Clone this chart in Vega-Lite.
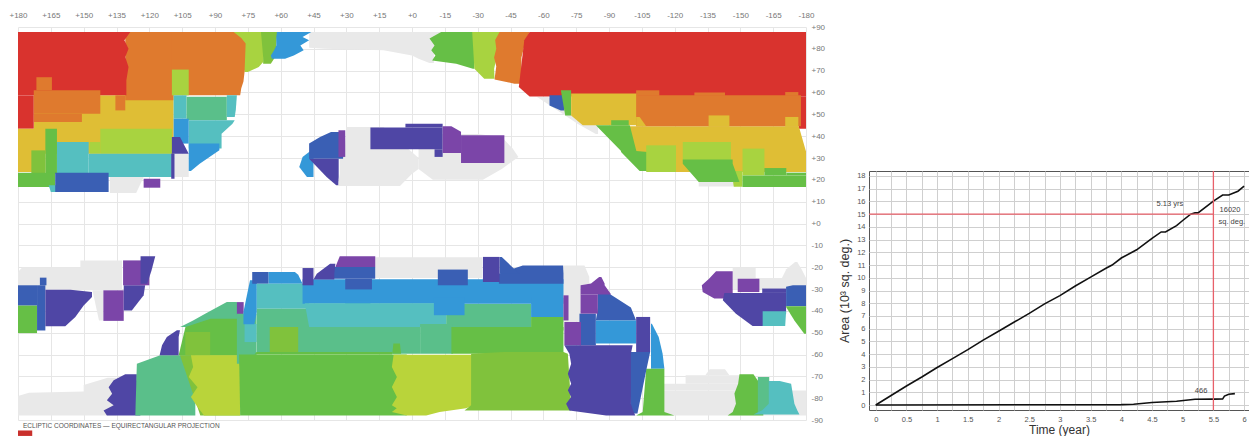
{"$schema":"https://vega.github.io/schema/vega-lite/v6.json","background":"white","padding":{"left":8,"top":11,"right":0,"bottom":0},"bounds":"flush","spacing":63,
"config":{"view":{"stroke":null},"font":"Liberation Sans"},
"datasets":{"regions":[
{"r":"g1","c":"gray","lat":73.5,"w":-8,"e":-10},{"r":"g1","c":"gray","lat":75.5,"w":-3,"e":-10},{"r":"g1","c":"gray","lat":77,"w":0,"e":-10},{"r":"g1","c":"gray","lat":79.3,"w":13,"e":-10},{"r":"g1","c":"gray","lat":80,"w":40,"e":-10},{"r":"g1","c":"gray","lat":80.5,"w":47,"e":-10},{"r":"g1","c":"gray","lat":87.7,"w":47,"e":-14},
{"r":"g2","c":"gray","lat":17.2,"w":33.7,"e":5.5},{"r":"g2","c":"gray","lat":22.8,"w":33,"e":0},{"r":"g2","c":"gray","lat":25,"w":33,"e":-3},{"r":"g2","c":"gray","lat":30.5,"w":33,"e":-3},
{"r":"g3","c":"gray","lat":20,"w":-9.5,"e":-32.4},{"r":"g3","c":"gray","lat":25,"w":-3,"e":-41},{"r":"g3","c":"gray","lat":30.5,"w":-3,"e":-48.6},{"r":"g3","c":"gray","lat":34.3,"w":-3,"e":-46},{"r":"g3","c":"gray","lat":39.6,"w":-3,"e":-41},{"r":"g3","c":"gray","lat":41,"w":-3,"e":-30},
{"r":"g4","c":"gray","lat":30,"w":31,"e":-3},{"r":"g4","c":"gray","lat":44.2,"w":30,"e":13},
{"r":"g5","c":"gray","lat":21.3,"w":138,"e":122.6},{"r":"g5","c":"gray","lat":14,"w":138,"e":126},
{"r":"g6","c":"gray","lat":21.3,"w":108.6,"e":102},{"r":"g6","c":"gray","lat":32,"w":108.6,"e":102},
{"r":"g7","c":"gray","lat":41,"w":-84,"e":-85},{"r":"g7","c":"gray","lat":45.5,"w":-76,"e":-85},{"r":"g7","c":"gray","lat":49.5,"w":-70,"e":-75},{"r":"g7","c":"gray","lat":58,"w":-57,"e":-62},
{"r":"g8","c":"gray","lat":17,"w":-131,"e":-148},{"r":"g8","c":"gray","lat":20,"w":-131,"e":-148},
{"r":"g9","c":"gray","lat":-30.6,"w":180,"e":132.5},{"r":"g9","c":"gray","lat":-22.2,"w":180,"e":132.5},{"r":"g9","c":"gray","lat":-20,"w":178,"e":132.5},
{"r":"g10","c":"gray","lat":-22,"w":151.5,"e":132.5},{"r":"g10","c":"gray","lat":-16.9,"w":151.5,"e":132.5},
{"r":"g11","c":"gray","lat":-44.4,"w":143,"e":141},{"r":"g11","c":"gray","lat":-30.6,"w":146,"e":141},
{"r":"g12","c":"gray","lat":-25,"w":16.8,"e":-32},{"r":"g12","c":"gray","lat":-15.5,"w":16.8,"e":-32},
{"r":"g13","c":"gray","lat":-45,"w":-69,"e":-77},{"r":"g13","c":"gray","lat":-28.3,"w":-69,"e":-77},{"r":"g13","c":"gray","lat":-27.6,"w":-69,"e":-81},{"r":"g13","c":"gray","lat":-24.5,"w":-69,"e":-81},{"r":"g13","c":"gray","lat":-19.2,"w":-69,"e":-78.8},
{"r":"g14","c":"gray","lat":-30,"w":-146.5,"e":-180},{"r":"g14","c":"gray","lat":-25,"w":-146.5,"e":-180},
{"r":"g15","c":"gray","lat":-25,"w":-146.5,"e":-157},{"r":"g15","c":"gray","lat":-20.2,"w":-146.5,"e":-157},
{"r":"g16","c":"gray","lat":-25,"w":-169,"e":-180},{"r":"g16","c":"gray","lat":-21,"w":-171,"e":-178},{"r":"g16","c":"gray","lat":-17.6,"w":-175,"e":-176},
{"r":"g17","c":"gray","lat":-87.9,"w":180,"e":135},{"r":"g17","c":"gray","lat":-79,"w":180,"e":135},{"r":"g17","c":"gray","lat":-77.5,"w":175,"e":135},{"r":"g17","c":"gray","lat":-77,"w":150,"e":135},{"r":"g17","c":"gray","lat":-74,"w":150,"e":135},{"r":"g17","c":"gray","lat":-70.6,"w":139,"e":135},
{"r":"g18","c":"gray","lat":-87.9,"w":-115,"e":-180},{"r":"g18","c":"gray","lat":-76.5,"w":-115,"e":-180},
{"r":"g19","c":"gray","lat":-76.5,"w":-115,"e":-171},{"r":"g19","c":"gray","lat":-73.4,"w":-115,"e":-171},
{"r":"g20","c":"gray","lat":-73.4,"w":-125,"e":-155},{"r":"g20","c":"gray","lat":-69.5,"w":-125,"e":-155},
{"r":"g21","c":"gray","lat":-69.5,"w":-134,"e":-145},{"r":"g21","c":"gray","lat":-66.8,"w":-136,"e":-143},

{"r":"a1","c":"ygreen","lat":69.4,"w":76.5,"e":75},{"r":"a1","c":"ygreen","lat":71.7,"w":77,"e":70},{"r":"a1","c":"ygreen","lat":74,"w":77,"e":68},{"r":"a1","c":"ygreen","lat":87.7,"w":82,"e":66},
{"r":"a2","c":"green2","lat":73.2,"w":68,"e":64.5},{"r":"a2","c":"green2","lat":76.3,"w":68,"e":62.5},{"r":"a2","c":"green2","lat":87.7,"w":69,"e":61.5},
{"r":"a3","c":"blue","lat":75.5,"w":64,"e":58},{"r":"a3","c":"blue","lat":77,"w":64.5,"e":54},{"r":"a3","c":"blue","lat":79.3,"w":63,"e":49.5},{"r":"a3","c":"blue","lat":81.5,"w":62,"e":51},{"r":"a3","c":"blue","lat":83.9,"w":62,"e":47},{"r":"a3","c":"blue","lat":85.4,"w":62,"e":50},{"r":"a3","c":"blue","lat":87.7,"w":61.7,"e":46},
{"r":"b0","c":"yellow","lat":32,"w":172.8,"e":108.9},{"r":"b0","c":"yellow","lat":58.7,"w":172.8,"e":108.9},
{"r":"b1","c":"orange","lat":56.4,"w":131,"e":109},{"r":"b1","c":"orange","lat":87.7,"w":131,"e":109},
{"r":"b2","c":"orange","lat":58.7,"w":110,"e":78.5},{"r":"b2","c":"orange","lat":62,"w":110,"e":78},{"r":"b2","c":"orange","lat":65,"w":110,"e":77},{"r":"b2","c":"orange","lat":69.4,"w":110,"e":76.5},{"r":"b2","c":"orange","lat":82.4,"w":110,"e":76},{"r":"b2","c":"orange","lat":85,"w":110,"e":78},{"r":"b2","c":"orange","lat":87.7,"w":110,"e":81.5},
{"r":"b3","c":"red","lat":58.7,"w":180,"e":130.5},{"r":"b3","c":"red","lat":65.6,"w":180,"e":130.5},{"r":"b3","c":"red","lat":71.7,"w":180,"e":129.5},{"r":"b3","c":"red","lat":76.3,"w":180,"e":131},{"r":"b3","c":"red","lat":80,"w":180,"e":129.5},{"r":"b3","c":"red","lat":83.9,"w":180,"e":131.4},{"r":"b3","c":"red","lat":87.7,"w":180,"e":128.7},
{"r":"b4","c":"red","lat":43.4,"w":180,"e":172.8},{"r":"b4","c":"red","lat":58.7,"w":180,"e":172.8},
{"r":"b5","c":"orange","lat":50.3,"w":172.8,"e":142.4},{"r":"b5","c":"orange","lat":61,"w":172.8,"e":142.4},
{"r":"b6","c":"orange","lat":46.5,"w":172.8,"e":150.8},{"r":"b6","c":"orange","lat":50.3,"w":172.8,"e":150.8},
{"r":"b7","c":"orange","lat":61,"w":171.6,"e":164.5},{"r":"b7","c":"orange","lat":67,"w":171.6,"e":164.5},
{"r":"b8","c":"orange","lat":51.8,"w":135.5,"e":131},{"r":"b8","c":"orange","lat":58.7,"w":135.5,"e":131},
{"r":"b9","c":"ygreen","lat":58.7,"w":109.7,"e":102},{"r":"b9","c":"ygreen","lat":70.5,"w":109.7,"e":102},
{"r":"c1","c":"yellow","lat":23.6,"w":180,"e":167.5},{"r":"c1","c":"yellow","lat":43.4,"w":180,"e":167.5},
{"r":"c2","c":"ygreen","lat":32,"w":142.4,"e":109.7},{"r":"c2","c":"ygreen","lat":43.4,"w":142.4,"e":109.7},
{"r":"c3","c":"ygreen","lat":32,"w":147.3,"e":142.4},{"r":"c3","c":"ygreen","lat":37.3,"w":147.3,"e":142.4},
{"r":"c4","c":"teal","lat":22.8,"w":162.2,"e":147.7},{"r":"c4","c":"teal","lat":37.3,"w":162.2,"e":147.7},
{"r":"c5","c":"teal","lat":21.3,"w":147.7,"e":109.7},{"r":"c5","c":"teal","lat":32,"w":147.7,"e":109.7},
{"r":"c6","c":"green","lat":22.8,"w":167.5,"e":162.2},{"r":"c6","c":"green","lat":43.4,"w":167.5,"e":162.2},
{"r":"c7","c":"green2","lat":22.8,"w":173.9,"e":167.5},{"r":"c7","c":"green2","lat":33.5,"w":173.9,"e":167.5},
{"r":"c8","c":"green","lat":16.7,"w":180,"e":163},{"r":"c8","c":"green","lat":23.3,"w":180,"e":163},
{"r":"c9","c":"teal","lat":14.4,"w":165,"e":162},{"r":"c9","c":"teal","lat":17.5,"w":166,"e":162},
{"r":"c10","c":"dblue","lat":14.4,"w":163,"e":138.6},{"r":"c10","c":"dblue","lat":23.3,"w":163,"e":138.6},
{"r":"c11","c":"purple","lat":16.4,"w":122.6,"e":115},{"r":"c11","c":"purple","lat":20.5,"w":122.6,"e":115},
{"r":"c12","c":"indigo","lat":20.5,"w":110,"e":108.5},{"r":"c12","c":"indigo","lat":32,"w":110,"e":108.5},
{"r":"d1","c":"teal","lat":48,"w":108.9,"e":103},{"r":"d1","c":"teal","lat":58.7,"w":108.9,"e":103},
{"r":"d2","c":"tgreen","lat":47.3,"w":103,"e":84.6},{"r":"d2","c":"tgreen","lat":58,"w":103,"e":84.6},
{"r":"d3","c":"teal","lat":48.8,"w":84.6,"e":81},{"r":"d3","c":"teal","lat":52,"w":84.6,"e":80.5},{"r":"d3","c":"teal","lat":58.7,"w":84.6,"e":80},
{"r":"d4","c":"teal","lat":34.3,"w":102,"e":87},{"r":"d4","c":"teal","lat":41.1,"w":102,"e":87},{"r":"d4","c":"teal","lat":45.7,"w":102,"e":82},{"r":"d4","c":"teal","lat":47.3,"w":102,"e":81},
{"r":"d5","c":"blue","lat":36.6,"w":108.9,"e":102},{"r":"d5","c":"blue","lat":48,"w":108.9,"e":102},
{"r":"d6","c":"indigo","lat":32,"w":109.7,"e":102},{"r":"d6","c":"indigo","lat":39.6,"w":109.7,"e":106},
{"r":"d7","c":"blue","lat":24,"w":102,"e":101},{"r":"d7","c":"blue","lat":27.4,"w":102,"e":97},{"r":"d7","c":"blue","lat":33.5,"w":102,"e":88},{"r":"d7","c":"blue","lat":36.6,"w":102,"e":88},
{"r":"e1","c":"blue","lat":21.3,"w":48,"e":45},{"r":"e1","c":"blue","lat":25.9,"w":51.5,"e":45},{"r":"e1","c":"blue","lat":30.5,"w":50,"e":45},{"r":"e1","c":"blue","lat":33.5,"w":46,"e":45},
{"r":"e2","c":"dblue","lat":29.7,"w":47,"e":31.5},{"r":"e2","c":"dblue","lat":36.6,"w":47,"e":31},{"r":"e2","c":"dblue","lat":39.6,"w":42,"e":32},{"r":"e2","c":"dblue","lat":41.9,"w":37,"e":32},
{"r":"e3","c":"indigo","lat":17.5,"w":34.6,"e":33.7},{"r":"e3","c":"indigo","lat":21.3,"w":39,"e":33.5},{"r":"e3","c":"indigo","lat":29.7,"w":47,"e":33.5},
{"r":"e4","c":"purple","lat":30.5,"w":33.6,"e":30.5},{"r":"e4","c":"purple","lat":42.7,"w":33.6,"e":30.5},
{"r":"e5","c":"indigo","lat":34,"w":19,"e":-14},{"r":"e5","c":"indigo","lat":44,"w":19,"e":-14},
{"r":"e6","c":"indigo","lat":44,"w":3,"e":-14},{"r":"e6","c":"indigo","lat":45.7,"w":3,"e":-14},
{"r":"e7","c":"indigo","lat":30.5,"w":-10.3,"e":-14},{"r":"e7","c":"indigo","lat":34,"w":-10.3,"e":-14},
{"r":"e8","c":"purple","lat":32.3,"w":-14,"e":-22.4},{"r":"e8","c":"purple","lat":42,"w":-14,"e":-22.4},{"r":"e8","c":"purple","lat":44.5,"w":-14,"e":-18},
{"r":"e9","c":"purple","lat":27.7,"w":-22.4,"e":-42.2},{"r":"e9","c":"purple","lat":40.4,"w":-22.4,"e":-42.2},
{"r":"f1","c":"green","lat":70.9,"w":-27.8,"e":-28.5},{"r":"f1","c":"green","lat":73.2,"w":-20.2,"e":-28.5},{"r":"f1","c":"green","lat":74.7,"w":-9.2,"e":-28.5},{"r":"f1","c":"green","lat":77,"w":-10.7,"e":-28.5},{"r":"f1","c":"green","lat":79.3,"w":-8.8,"e":-28.5},{"r":"f1","c":"green","lat":81.5,"w":-10.3,"e":-28.5},{"r":"f1","c":"green","lat":84.7,"w":-8,"e":-28.5},{"r":"f1","c":"green","lat":87.7,"w":-13.3,"e":-28.5},
{"r":"f2","c":"ygreen","lat":66.3,"w":-33,"e":-37.7},{"r":"f2","c":"ygreen","lat":70.9,"w":-28.5,"e":-37.5},{"r":"f2","c":"ygreen","lat":87.7,"w":-27.5,"e":-41.5},
{"r":"f3","c":"orange","lat":64,"w":-46.8,"e":-49.9},{"r":"f3","c":"orange","lat":66,"w":-37.7,"e":-49.9},{"r":"f3","c":"orange","lat":72,"w":-38.5,"e":-50},{"r":"f3","c":"orange","lat":76,"w":-37.5,"e":-50},{"r":"f3","c":"orange","lat":80,"w":-38.5,"e":-51},{"r":"f3","c":"orange","lat":84,"w":-38,"e":-52},{"r":"f3","c":"orange","lat":87.7,"w":-40,"e":-53.7},
{"r":"f4","c":"red","lat":58.2,"w":-53.7,"e":-180},{"r":"f4","c":"red","lat":62.5,"w":-48.8,"e":-180},{"r":"f4","c":"red","lat":83.9,"w":-51.3,"e":-180},{"r":"f4","c":"red","lat":87.7,"w":-53.7,"e":-180},
{"r":"f5","c":"red","lat":43.4,"w":-176.7,"e":-180},{"r":"f5","c":"red","lat":58.2,"w":-176.7,"e":-180},
{"r":"f6","c":"dblue","lat":51.8,"w":-68,"e":-69.6},{"r":"f6","c":"dblue","lat":54.1,"w":-62.8,"e":-69.6},{"r":"f6","c":"dblue","lat":58.7,"w":-62.8,"e":-69.6},
{"r":"f7","c":"green","lat":49.5,"w":-70,"e":-72.7},{"r":"f7","c":"green","lat":61,"w":-68,"e":-72.7},
{"r":"f8","c":"yellow","lat":45,"w":-78,"e":-103},{"r":"f8","c":"yellow","lat":49.5,"w":-72.7,"e":-103},{"r":"f8","c":"yellow","lat":59.5,"w":-72.7,"e":-103},
{"r":"f9","c":"yellow","lat":23.6,"w":-108,"e":-180},{"r":"f9","c":"yellow","lat":33,"w":-102,"e":-180},{"r":"f9","c":"yellow","lat":44.5,"w":-99.3,"e":-176.7},
{"r":"h1","c":"orange","lat":44.5,"w":-102.4,"e":-177.7},{"r":"h1","c":"orange","lat":58.7,"w":-102.4,"e":-177.7},
{"r":"h2","c":"orange","lat":58.5,"w":-102.4,"e":-113},{"r":"h2","c":"orange","lat":61,"w":-102.4,"e":-113},
{"r":"h3","c":"orange","lat":58.5,"w":-129,"e":-143},{"r":"h3","c":"orange","lat":60,"w":-129,"e":-143},
{"r":"h4","c":"orange","lat":58.5,"w":-170.5,"e":-176.5},{"r":"h4","c":"orange","lat":60.2,"w":-170.5,"e":-176.5},
{"r":"h5","c":"yellow","lat":44.5,"w":-102.4,"e":-107},{"r":"h5","c":"yellow","lat":48.8,"w":-102.4,"e":-104},
{"r":"h6","c":"yellow","lat":44.3,"w":-135.5,"e":-145},{"r":"h6","c":"yellow","lat":49.5,"w":-135.5,"e":-145},
{"r":"h7","c":"yellow","lat":44.3,"w":-170.5,"e":-176.5},{"r":"h7","c":"yellow","lat":48.8,"w":-170.5,"e":-176.5},
{"r":"i1","c":"green","lat":24,"w":-104,"e":-107.7},{"r":"i1","c":"green","lat":32.8,"w":-95.5,"e":-107.7},{"r":"i1","c":"green","lat":33.2,"w":-95.5,"e":-102.5},{"r":"i1","c":"green","lat":45,"w":-84,"e":-99.5},
{"r":"i2","c":"green","lat":45,"w":-91,"e":-99},{"r":"i2","c":"green","lat":47.3,"w":-91,"e":-99},
{"r":"i3","c":"ygreen","lat":23.6,"w":-107,"e":-120.6},{"r":"i3","c":"ygreen","lat":35.8,"w":-107,"e":-120.6},
{"r":"i4","c":"ygreen","lat":28.9,"w":-123.7,"e":-145.7},{"r":"i4","c":"ygreen","lat":37.3,"w":-123.7,"e":-145.7},
{"r":"i5","c":"ygreen","lat":22,"w":-151,"e":-161},{"r":"i5","c":"ygreen","lat":34.3,"w":-151,"e":-161},
{"r":"i6","c":"ygreen","lat":16.8,"w":-147,"e":-151},{"r":"i6","c":"ygreen","lat":24,"w":-146,"e":-151},
{"r":"i7","c":"green","lat":19,"w":-131,"e":-149.6},{"r":"i7","c":"green","lat":27.4,"w":-123.7,"e":-146.5},{"r":"i7","c":"green","lat":29.3,"w":-123.7,"e":-146.5},
{"r":"i8","c":"green","lat":16.7,"w":-151,"e":-180},{"r":"i8","c":"green","lat":22,"w":-151,"e":-180},
{"r":"i9","c":"green","lat":22,"w":-161,"e":-171},{"r":"i9","c":"green","lat":25.4,"w":-161,"e":-171},
{"r":"i10","c":"green","lat":22,"w":-171,"e":-180},{"r":"i10","c":"green","lat":23.3,"w":-171,"e":-180},

{"r":"j1","c":"green","lat":-50.2,"w":180,"e":171.3},{"r":"j1","c":"green","lat":-37.5,"w":180,"e":171.3},
{"r":"j2","c":"dblue","lat":-37.5,"w":180,"e":171.3},{"r":"j2","c":"dblue","lat":-28.3,"w":180,"e":171.3},
{"r":"j3","c":"dblue","lat":-49,"w":171.3,"e":167.5},{"r":"j3","c":"dblue","lat":-28.3,"w":171.3,"e":167.5},
{"r":"j4","c":"dblue","lat":-28.3,"w":170,"e":167},{"r":"j4","c":"dblue","lat":-24.8,"w":170,"e":167},
{"r":"j5","c":"indigo","lat":-47.1,"w":167.5,"e":158.4},{"r":"j5","c":"indigo","lat":-42.8,"w":167.5,"e":153.8},{"r":"j5","c":"indigo","lat":-37.5,"w":167.5,"e":150},{"r":"j5","c":"indigo","lat":-33.7,"w":167.5,"e":146.2},{"r":"j5","c":"indigo","lat":-31.4,"w":167.5,"e":146.2},{"r":"j5","c":"indigo","lat":-30.3,"w":167.5,"e":156},
{"r":"j6","c":"purple","lat":-44.6,"w":141,"e":131.7},{"r":"j6","c":"purple","lat":-30.6,"w":141,"e":131.7},
{"r":"j7","c":"indigo","lat":-39.8,"w":131.7,"e":128},{"r":"j7","c":"indigo","lat":-32.9,"w":131.7,"e":122.6},{"r":"j7","c":"indigo","lat":-28.3,"w":131.7,"e":121.9},
{"r":"j8","c":"purple","lat":-28.3,"w":132,"e":120},{"r":"j8","c":"purple","lat":-16.9,"w":132,"e":120},
{"r":"j9","c":"indigo","lat":-27.6,"w":124,"e":121},{"r":"j9","c":"indigo","lat":-21.5,"w":124,"e":119},{"r":"j9","c":"indigo","lat":-15,"w":124,"e":117.3},

{"r":"k1","c":"indigo","lat":-87.9,"w":139.4,"e":124.1},{"r":"k1","c":"indigo","lat":-85.6,"w":140.9,"e":124.1},{"r":"k1","c":"indigo","lat":-83.3,"w":136.3,"e":124.5},{"r":"k1","c":"indigo","lat":-81,"w":139.4,"e":125},{"r":"k1","c":"indigo","lat":-78,"w":137,"e":125},{"r":"k1","c":"indigo","lat":-75,"w":138.6,"e":125},{"r":"k1","c":"indigo","lat":-71.8,"w":136.3,"e":125.7},{"r":"k1","c":"indigo","lat":-69,"w":131,"e":125.7},
{"r":"k2","c":"tgreen","lat":-87.9,"w":126.4,"e":99},{"r":"k2","c":"tgreen","lat":-64.2,"w":125.7,"e":99},{"r":"k2","c":"tgreen","lat":-60.4,"w":115,"e":99},
{"r":"k3","c":"indigo","lat":-60.4,"w":115.3,"e":106.6},{"r":"k3","c":"indigo","lat":-55.8,"w":114.2,"e":106.6},{"r":"k3","c":"indigo","lat":-52,"w":112,"e":106.6},{"r":"k3","c":"indigo","lat":-48.9,"w":107.4,"e":106},
{"r":"k4","c":"tgreen","lat":-47.4,"w":105.9,"e":79.5},{"r":"k4","c":"tgreen","lat":-44.4,"w":100,"e":79.5},{"r":"k4","c":"tgreen","lat":-41.3,"w":94.5,"e":79.5},{"r":"k4","c":"tgreen","lat":-36,"w":84.6,"e":80},
{"r":"k5","c":"green","lat":-60.4,"w":106.6,"e":79.5},{"r":"k5","c":"green","lat":-47.4,"w":103.5,"e":79.5},{"r":"k5","c":"green","lat":-43.6,"w":92,"e":79.5},
{"r":"k6","c":"green2","lat":-60.4,"w":103.6,"e":92.2},{"r":"k6","c":"green2","lat":-49.7,"w":103.6,"e":92.2},
{"r":"k7","c":"green2","lat":-87.9,"w":96.7,"e":78.5},{"r":"k7","c":"green2","lat":-60.4,"w":106,"e":78.5},
{"r":"k8","c":"lime","lat":-87.9,"w":95,"e":78.5},{"r":"k8","c":"lime","lat":-84,"w":98,"e":78.5},{"r":"k8","c":"lime","lat":-79.5,"w":101,"e":78.5},{"r":"k8","c":"lime","lat":-75,"w":98,"e":78.5},{"r":"k8","c":"lime","lat":-70.3,"w":102,"e":78.5},{"r":"k8","c":"lime","lat":-65.7,"w":100,"e":78.5},{"r":"k8","c":"lime","lat":-60.4,"w":101,"e":79.7},
{"r":"k9","c":"purple","lat":-41.6,"w":80,"e":76.9},{"r":"k9","c":"purple","lat":-36,"w":80,"e":76.9},
{"r":"l1","c":"tgreen","lat":-64.2,"w":80,"e":71},{"r":"l1","c":"tgreen","lat":-41.3,"w":80,"e":71},
{"r":"l2","c":"teal","lat":-54.3,"w":76.5,"e":71},{"r":"l2","c":"teal","lat":-46,"w":76.5,"e":71},
{"r":"l3","c":"blue","lat":-46.2,"w":77,"e":72},{"r":"l3","c":"blue","lat":-40.5,"w":77,"e":70.9},{"r":"l3","c":"blue","lat":-26,"w":74,"e":70.9},
{"r":"l4","c":"dblue","lat":-27.6,"w":73,"e":65.5},{"r":"l4","c":"dblue","lat":-22.2,"w":73,"e":65.5},
{"r":"l5","c":"blue","lat":-27.6,"w":65.5,"e":50},{"r":"l5","c":"blue","lat":-23.5,"w":65.5,"e":52},{"r":"l5","c":"blue","lat":-22.2,"w":65.5,"e":53.5},
{"r":"l6","c":"teal","lat":-39,"w":70.9,"e":47},{"r":"l6","c":"teal","lat":-27.6,"w":70.9,"e":47},
{"r":"l7","c":"tgreen","lat":-59.6,"w":70.9,"e":-3.7},{"r":"l7","c":"tgreen","lat":-46,"w":70.9,"e":-3.7},
{"r":"l8","c":"tgreen","lat":-46,"w":70.9,"e":47},{"r":"l8","c":"tgreen","lat":-39,"w":70.9,"e":47},
{"r":"l9","c":"green2","lat":-58.9,"w":65,"e":52},{"r":"l9","c":"green2","lat":-47.4,"w":65,"e":52},
{"r":"m5","c":"tgreen","lat":-47.4,"w":-15.6,"e":-54.4},{"r":"m5","c":"tgreen","lat":-36.7,"w":-15.6,"e":-54.4},
{"r":"m1","c":"blue","lat":-36.8,"w":50,"e":-69.2},{"r":"m1","c":"blue","lat":-25.5,"w":50,"e":-69.2},
{"r":"m2","c":"blue","lat":-39,"w":30.5,"e":19},{"r":"m2","c":"blue","lat":-35.2,"w":30.5,"e":19},
{"r":"m3","c":"teal","lat":-47.4,"w":47,"e":-15.6},{"r":"m3","c":"teal","lat":-36.5,"w":49,"e":-15.6},
{"r":"m4","c":"blue","lat":-42,"w":-10,"e":-24},{"r":"m4","c":"blue","lat":-34,"w":-10,"e":-24},
{"r":"m6","c":"blue","lat":-42.8,"w":-54.4,"e":-69.2},{"r":"m6","c":"blue","lat":-34,"w":-54.4,"e":-69.2},
{"r":"m7","c":"green","lat":-49,"w":-54.4,"e":-69.2},{"r":"m7","c":"green","lat":-42.8,"w":-54.4,"e":-69.2},
{"r":"m8","c":"tgreen","lat":-59.6,"w":-3.7,"e":-18.6},{"r":"m8","c":"tgreen","lat":-46,"w":-3.7,"e":-18.6},
{"r":"m9","c":"green","lat":-59.6,"w":-18,"e":-69.2},{"r":"m9","c":"green","lat":-47.4,"w":-18,"e":-69.2},
{"r":"n1","c":"green","lat":-87.9,"w":78.5,"e":2.4},{"r":"n1","c":"green","lat":-60,"w":79,"e":2.4},
{"r":"n2","c":"green","lat":-60,"w":72,"e":9},{"r":"n2","c":"green","lat":-58.9,"w":71,"e":9},
{"r":"n3","c":"green","lat":-59.6,"w":9,"e":5},{"r":"n3","c":"green","lat":-55,"w":8.5,"e":5.5},
{"r":"n4","c":"lime","lat":-87.9,"w":2.4,"e":-6.5},{"r":"n4","c":"lime","lat":-86.3,"w":9.2,"e":-12.6},{"r":"n4","c":"lime","lat":-84.6,"w":7,"e":-24.7},{"r":"n4","c":"lime","lat":-83.3,"w":9.2,"e":-28.5},{"r":"n4","c":"lime","lat":-79.5,"w":6.9,"e":-28.5},{"r":"n4","c":"lime","lat":-74.9,"w":9.2,"e":-28.5},{"r":"n4","c":"lime","lat":-70.3,"w":6.9,"e":-28.5},{"r":"n4","c":"lime","lat":-65.7,"w":9.2,"e":-28.5},{"r":"n4","c":"lime","lat":-60.1,"w":8.4,"e":-28.5},
{"r":"n5","c":"green2","lat":-85.6,"w":-24,"e":-72.7},{"r":"n5","c":"green2","lat":-83.3,"w":-27,"e":-72.7},{"r":"n5","c":"green2","lat":-59.6,"w":-27,"e":-71.2},{"r":"n5","c":"green2","lat":-58.9,"w":-42,"e":-69.2},
{"r":"p1","c":"blue","lat":-45.9,"w":-109.2,"e":-109.6},{"r":"p1","c":"blue","lat":-52,"w":-109.2,"e":-112.7},{"r":"p1","c":"blue","lat":-59.6,"w":-109.2,"e":-114.5},{"r":"p1","c":"blue","lat":-66.5,"w":-109.2,"e":-115.3},
{"r":"p2","c":"dblue","lat":-55.8,"w":-76.5,"e":-84},{"r":"p2","c":"dblue","lat":-41.3,"w":-76.5,"e":-84},
{"r":"p3","c":"dblue","lat":-44.4,"w":-84,"e":-102.4},{"r":"p3","c":"dblue","lat":-38.5,"w":-84.9,"e":-100},{"r":"p3","c":"dblue","lat":-32.1,"w":-84.9,"e":-90},
{"r":"p4","c":"blue","lat":-55,"w":-84,"e":-102.4},{"r":"p4","c":"blue","lat":-44.4,"w":-84,"e":-102.4},
{"r":"p5","c":"purple","lat":-41.3,"w":-77,"e":-84.9},{"r":"p5","c":"purple","lat":-32.5,"w":-77,"e":-84.9},
{"r":"p6","c":"purple","lat":-32.5,"w":-77,"e":-91},{"r":"p6","c":"purple","lat":-28.3,"w":-77,"e":-88},{"r":"p6","c":"purple","lat":-27.5,"w":-81.8,"e":-88},{"r":"p6","c":"purple","lat":-24.5,"w":-85.5,"e":-86.5},
{"r":"p7","c":"purple","lat":-55.8,"w":-69.6,"e":-77.2},{"r":"p7","c":"purple","lat":-45.1,"w":-69.6,"e":-77.2},
{"r":"p8","c":"purple","lat":-44.4,"w":-69.2,"e":-71.5},{"r":"p8","c":"purple","lat":-32.9,"w":-69.2,"e":-71.5},
{"r":"p9","c":"indigo","lat":-42.8,"w":-102.4,"e":-108.8},{"r":"p9","c":"indigo","lat":-58.9,"w":-102.4,"e":-108.8},
{"r":"q1","c":"green","lat":-87.9,"w":-102.4,"e":-119.9},{"r":"q1","c":"green","lat":-86.3,"w":-105.4,"e":-115.3},{"r":"q1","c":"green","lat":-66.5,"w":-107,"e":-115.3},
{"r":"q2","c":"dblue","lat":-87,"w":-100,"e":-103},{"r":"q2","c":"dblue","lat":-67.3,"w":-99,"e":-107},{"r":"q2","c":"dblue","lat":-58.9,"w":-99,"e":-108.8},
{"r":"q3","c":"indigo","lat":-87.9,"w":-88.7,"e":-102},{"r":"q3","c":"indigo","lat":-85.6,"w":-71.9,"e":-101},{"r":"q3","c":"indigo","lat":-82.5,"w":-70.4,"e":-100},{"r":"q3","c":"indigo","lat":-79.5,"w":-72.7,"e":-100},{"r":"q3","c":"indigo","lat":-76.4,"w":-71.2,"e":-100},{"r":"q3","c":"indigo","lat":-73.4,"w":-72.7,"e":-100},{"r":"q3","c":"indigo","lat":-68.8,"w":-71.2,"e":-100},{"r":"q3","c":"indigo","lat":-64.2,"w":-72.7,"e":-100},{"r":"q3","c":"indigo","lat":-59.6,"w":-71.9,"e":-100},{"r":"q3","c":"indigo","lat":-55.8,"w":-69.6,"e":-100.8},
{"r":"q4","c":"dblue","lat":-28.3,"w":-11.8,"e":-25.5},{"r":"q4","c":"dblue","lat":-21.1,"w":-11.8,"e":-25.5},
{"r":"q5","c":"dblue","lat":-27.6,"w":-39.7,"e":-69.2},{"r":"q5","c":"dblue","lat":-23,"w":-39.7,"e":-69.2},{"r":"q5","c":"dblue","lat":-19.2,"w":-50.6,"e":-69},
{"r":"q6","c":"dblue","lat":-23,"w":-40,"e":-49},{"r":"q6","c":"dblue","lat":-15.3,"w":-40,"e":-41},
{"r":"q7","c":"indigo","lat":-26.8,"w":-32.4,"e":-40},{"r":"q7","c":"indigo","lat":-15.3,"w":-32.4,"e":-40},
{"r":"q8","c":"dblue","lat":-25.3,"w":36.8,"e":16.8},{"r":"q8","c":"dblue","lat":-19.9,"w":36.8,"e":16.8},
{"r":"q9","c":"dblue","lat":-30.2,"w":30.5,"e":18.3},{"r":"q9","c":"dblue","lat":-25.3,"w":30.5,"e":18.3},
{"r":"q10","c":"purple","lat":-19.9,"w":35,"e":16.8},{"r":"q10","c":"purple","lat":-15,"w":33,"e":16.8},
{"r":"q11","c":"indigo","lat":-28.3,"w":50,"e":45},{"r":"q11","c":"indigo","lat":-20.4,"w":50,"e":45},
{"r":"q12","c":"indigo","lat":-25.7,"w":45,"e":35.5},{"r":"q12","c":"indigo","lat":-23,"w":43.5,"e":35.5},{"r":"q12","c":"indigo","lat":-18.4,"w":37.4,"e":35},
{"r":"t1","c":"purple","lat":-34.4,"w":-138.1,"e":-146.5},{"r":"t1","c":"purple","lat":-31.4,"w":-132.8,"e":-146.5},{"r":"t1","c":"purple","lat":-28.3,"w":-132.4,"e":-146.5},{"r":"t1","c":"purple","lat":-25.3,"w":-135.7,"e":-146.5},{"r":"t1","c":"purple","lat":-21.9,"w":-138.9,"e":-146.5},
{"r":"t2","c":"purple","lat":-31.4,"w":-148.8,"e":-158.7},{"r":"t2","c":"purple","lat":-25.3,"w":-148.8,"e":-158.7},
{"r":"t3","c":"indigo","lat":-46.9,"w":-155.6,"e":-160.2},{"r":"t3","c":"indigo","lat":-41.3,"w":-148,"e":-170.9},{"r":"t3","c":"indigo","lat":-35.2,"w":-142,"e":-170.9},{"r":"t3","c":"indigo","lat":-31.8,"w":-142.7,"e":-170.9},
{"r":"t4","c":"indigo","lat":-31.8,"w":-160,"e":-170.9},{"r":"t4","c":"indigo","lat":-29.8,"w":-160,"e":-170.9},
{"r":"t5","c":"teal","lat":-46.9,"w":-160.2,"e":-170.5},{"r":"t5","c":"teal","lat":-40.2,"w":-160.2,"e":-170.9},
{"r":"t6","c":"dblue","lat":-37.9,"w":-170.9,"e":-180},{"r":"t6","c":"dblue","lat":-29,"w":-170.9,"e":-180},{"r":"t6","c":"dblue","lat":-28.3,"w":-174,"e":-180},
{"r":"t7","c":"green","lat":-50.5,"w":-179.2,"e":-180},{"r":"t7","c":"green","lat":-44.4,"w":-174.7,"e":-180},{"r":"t7","c":"green","lat":-37.9,"w":-170.7,"e":-180},
{"r":"u1","c":"green","lat":-87.9,"w":-144.2,"e":-160.5},{"r":"u1","c":"green","lat":-86.3,"w":-146.5,"e":-160.5},{"r":"u1","c":"green","lat":-82.5,"w":-148,"e":-160.5},{"r":"u1","c":"green","lat":-77.9,"w":-147.3,"e":-160.5},{"r":"u1","c":"green","lat":-73.4,"w":-149,"e":-159},{"r":"u1","c":"green","lat":-69.1,"w":-149.6,"e":-156},
{"r":"u2","c":"tgreen","lat":-87,"w":-158,"e":-163.2},{"r":"u2","c":"tgreen","lat":-70.3,"w":-158,"e":-163.2},
{"r":"u3","c":"teal","lat":-87.5,"w":-156,"e":-177},{"r":"u3","c":"teal","lat":-85.5,"w":-160,"e":-176},{"r":"u3","c":"teal","lat":-82.5,"w":-163,"e":-174.7},{"r":"u3","c":"teal","lat":-73.4,"w":-163,"e":-173.2},{"r":"u3","c":"teal","lat":-72.1,"w":-163,"e":-168}
],
"note":[{"lon":177.7,"lat":-92.7,"t":"ECLIPTIC COORDINATES — EQUIRECTANGULAR PROJECTION"}],
"swatch":[{"w":180,"e":173.5,"lat":-94.8,"lat2":-97.3}],
"main":[{"t":0,"a":0},{"t":0.25,"a":0.75},{"t":0.5,"a":1.5},{"t":0.75,"a":2.2},{"t":1,"a":2.95},{"t":1.25,"a":3.65},{"t":1.5,"a":4.35},{"t":1.75,"a":5.1},{"t":2,"a":5.8},{"t":2.25,"a":6.5},{"t":2.5,"a":7.2},{"t":2.75,"a":7.95},{"t":3,"a":8.6},{"t":3.25,"a":9.35},{"t":3.5,"a":10.05},{"t":3.75,"a":10.75},{"t":3.85,"a":11},{"t":4,"a":11.55},{"t":4.25,"a":12.2},{"t":4.5,"a":13.1},{"t":4.65,"a":13.6},{"t":4.72,"a":13.6},{"t":4.9,"a":14.1},{"t":5,"a":14.5},{"t":5.13,"a":15},{"t":5.2,"a":15.1},{"t":5.25,"a":15.1},{"t":5.5,"a":16.02},{"t":5.65,"a":16.5},{"t":5.75,"a":16.5},{"t":5.9,"a":16.8},{"t":6,"a":17.2}],
"low":[{"t":0,"a":0},{"t":4,"a":0.03},{"t":4.2,"a":0.06},{"t":4.5,"a":0.2},{"t":4.9,"a":0.3},{"t":5.2,"a":0.45},{"t":5.5,"a":0.466},{"t":5.65,"a":0.47},{"t":5.68,"a":0.7},{"t":5.75,"a":0.85},{"t":5.85,"a":0.9}],
"notes":[{"t":4.79,"a":15.76,"s":"5.13 yrs"},{"t":5.77,"a":15.3,"s":"16020"},{"t":5.8,"a":14.4,"s":"sq. deg."},{"t":5.3,"a":1.1,"s":"466"}]
},
"hconcat":[
{"width":788,"height":393,"layer":[
{"data":{"name":"regions"},"mark":{"type":"area","orient":"horizontal","strokeWidth":0},"encoding":{
"y":{"field":"lat","type":"quantitative","scale":{"domain":[-90,90],"nice":false,"zero":false},"axis":{"orient":"right","title":null,"tickCount":100,"values":[-90,-80,-70,-60,-50,-40,-30,-20,-10,0,10,20,30,40,50,60,70,80,90],"labelExpr":"datum.value>=0?'+'+datum.value:''+datum.value","labelFontSize":8,"labelColor":"#777777","grid":true,"gridColor":"#e6e6e6","gridWidth":1,"ticks":false,"domain":false,"labelPadding":5,"labelOverlap":false,"labelFlush":false}},
"x":{"field":"w","type":"quantitative","stack":null,"scale":{"domain":[180,-180],"nice":false,"zero":false},"axis":{"orient":"top","title":null,"tickCount":100,"values":[180,165,150,135,120,105,90,75,60,45,30,15,0,-15,-30,-45,-60,-75,-90,-105,-120,-135,-150,-165,-180],"labelExpr":"datum.value>=0?'+'+datum.value:''+datum.value","labelFontSize":8,"labelColor":"#777777","grid":true,"gridColor":"#e6e6e6","gridWidth":1,"ticks":false,"domain":false,"labelPadding":8,"labelOverlap":false,"labelFlush":false}},
"x2":{"field":"e"},
"detail":{"field":"r"},
"color":{"field":"c","type":"nominal","legend":null,"scale":{"domain":["red","orange","yellow","ygreen","lime","green","green2","tgreen","teal","blue","dblue","indigo","purple","gray"],"range":["#d9332e","#df7a2e","#dfbe35","#a8d340","#b9d43a","#66bf46","#80c23c","#5abf8a","#55bfc0","#3498d8","#3a5fb4","#4f46a5","#7b45a8","#e9e9e9"]}}
}},
{"data":{"name":"note"},"mark":{"type":"text","align":"left","baseline":"middle","fontSize":6.5,"color":"#555555"},"encoding":{"x":{"field":"lon","type":"quantitative"},"y":{"field":"lat","type":"quantitative"},"text":{"field":"t"}}},
{"data":{"name":"swatch"},"mark":{"type":"rect","color":"#c9302c"},"encoding":{"x":{"field":"w","type":"quantitative"},"x2":{"field":"e"},"y":{"field":"lat","type":"quantitative"},"y2":{"field":"lat2"}}}
]},
{"vconcat":[
{"width":380,"height":144,"data":{"values":[]},"mark":{"type":"point"},"encoding":{}},
{"width":380,"height":239,"view":{"stroke":"#555555","strokeWidth":1},"layer":[
{"data":{"name":"main"},"mark":{"type":"line","color":"#111111","strokeWidth":1.6},"encoding":{
"x":{"field":"t","type":"quantitative","scale":{"domain":[-0.11,6.08],"nice":false,"zero":false},"axis":{"title":"Time (year)","titleFontSize":12,"titleFontWeight":"normal","titleColor":"#333333","titlePadding":2,"tickCount":100,"values":[0,0.25,0.5,0.75,1,1.25,1.5,1.75,2,2.25,2.5,2.75,3,3.25,3.5,3.75,4,4.25,4.5,4.75,5,5.25,5.5,5.75,6],"labelExpr":"datum.value*2%1==0?''+datum.value:''","labelFontSize":7.5,"labelColor":"#555555","grid":true,"gridColor":"#cfcfcf","ticks":false,"domain":false,"labelPadding":5,"labelOverlap":false,"labelFlush":false}},
"y":{"field":"a","type":"quantitative","scale":{"domain":[-0.39,18.39],"nice":false,"zero":false},"axis":{"title":"Area (10³ sq. deg.)","titleFontSize":12.5,"titleFontWeight":"normal","titleColor":"#333333","titlePadding":5,"tickCount":100,"format":"d","values":[0,1,2,3,4,5,6,7,8,9,10,11,12,13,14,15,16,17,18],"labelFontSize":7.5,"labelColor":"#555555","grid":true,"gridColor":"#cfcfcf","ticks":false,"domain":false,"labelPadding":4,"labelOverlap":false,"labelFlush":false}}}},
{"data":{"name":"low"},"mark":{"type":"line","color":"#111111","strokeWidth":1.6},"encoding":{"x":{"field":"t","type":"quantitative"},"y":{"field":"a","type":"quantitative"}}},
{"data":{"values":[{"x":5.5}]},"mark":{"type":"rule","color":"#e8606a","strokeWidth":1.3},"encoding":{"x":{"field":"x","type":"quantitative"}}},
{"data":{"values":[{"x":-0.11,"x2":5.5,"y":15}]},"mark":{"type":"rule","color":"#e8606a","strokeWidth":1.3},"encoding":{"x":{"field":"x","type":"quantitative"},"x2":{"field":"x2"},"y":{"field":"y","type":"quantitative"}}},
{"data":{"name":"notes"},"mark":{"type":"text","fontSize":7.5,"color":"#444444"},"encoding":{"x":{"field":"t","type":"quantitative"},"y":{"field":"a","type":"quantitative"},"text":{"field":"s"}}}
]}
],"spacing":0,"bounds":"flush"}
]}
